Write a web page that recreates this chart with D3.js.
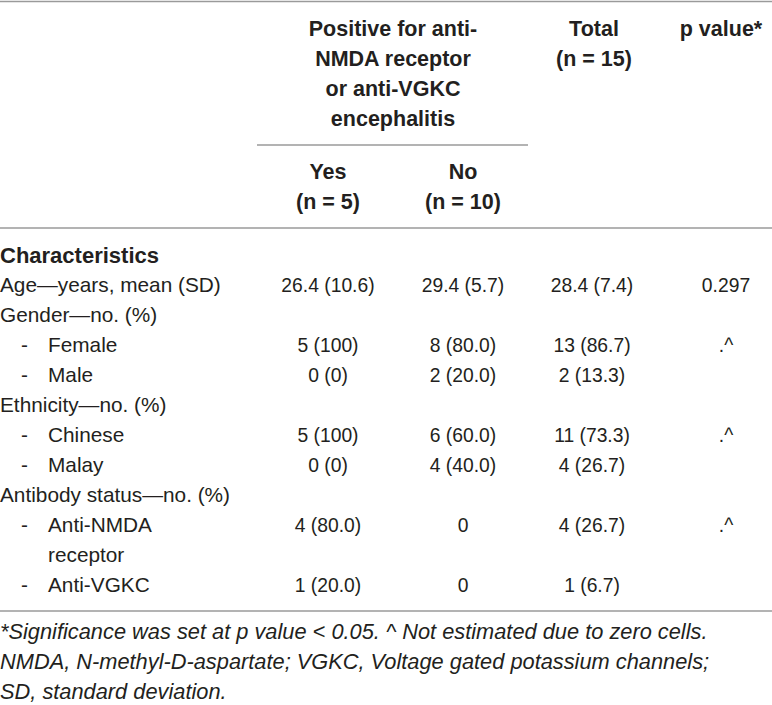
<!DOCTYPE html>
<html>
<head>
<meta charset="utf-8">
<script src="https://cdn.jsdelivr.net/npm/d3@7"></script>
<style>
  html, body { margin: 0; padding: 0; background: #fff; }
  svg text { font-family: "Liberation Sans", Arial, sans-serif; fill: #231f20; }
</style>
</head>
<body>
<script>
// column headers
var groupHeader = ["Positive for anti-", "NMDA receptor", "or anti-VGKC", "encephalitis"];
var yesHeader = ["Yes", "(n = 5)"];
var noHeader = ["No", "(n = 10)"];
var totalHeader = ["Total", "(n = 15)"];
var pHeader = ["p value*"];

// row labels (indent 1 = sub item with dash, 2 = wrapped line)
var rowLabels = ["Age\u2014years, mean (SD)", "Gender\u2014no. (%)", "Female", "Male",
  "Ethnicity\u2014no. (%)", "Chinese", "Malay", "Antibody status\u2014no. (%)",
  "Anti-NMDA", "receptor", "Anti-VGKC"];
var rowIndent = [0, 0, 1, 1, 0, 1, 1, 0, 1, 2, 1];

var yesValues   = ["26.4 (10.6)", "", "5 (100)", "0 (0)", "", "5 (100)", "0 (0)", "", "4 (80.0)", "", "1 (20.0)"];
var noValues    = ["29.4 (5.7)", "", "8 (80.0)", "2 (20.0)", "", "6 (60.0)", "4 (40.0)", "", "0", "", "0"];
var totalValues = ["28.4 (7.4)", "", "13 (86.7)", "2 (13.3)", "", "11 (73.3)", "4 (26.7)", "", "4 (26.7)", "", "1 (6.7)"];
var pValues     = ["0.297", "", ".^", "", "", ".^", "", "", ".^", "", ""];

var footnotes = [
  "*Significance was set at p value < 0.05. ^ Not estimated due to zero cells.",
  "NMDA, N-methyl-D-aspartate; VGKC, Voltage gated potassium channels;",
  "SD, standard deviation."
];

var w = 772, h = 705;
var fsHead = 21.5, fsLabel = 20.8, fsValue = 19.3, fsFoot = 21.8;

var svg = d3.select("body").append("svg")
  .attr("width", w).attr("height", h);

var cols = ["yes", "no", "total", "p"];
var xHead = d3.scaleOrdinal().domain(cols).range([328, 463, 594, 721]);
var xCol = d3.scaleOrdinal().domain(cols).range([328, 463, 592, 726]);
var yLine = d3.scaleLinear().domain([0, 1]).range([36, 66]);   // header text lines
var yRow = d3.scaleLinear().domain([0, 1]).range([292, 322]);  // body rows
var yFoot = d3.scaleLinear().domain([0, 1]).range([639, 669]);

// rules
var ruleColor = "#9a9a9a";
function rule(x1, x2, y) {
  svg.append("line").attr("x1", x1).attr("x2", x2).attr("y1", y).attr("y2", y)
    .attr("stroke", ruleColor).attr("stroke-width", 1.6);
}
rule(0, w, 1.5);
rule(257, 528, 145);
rule(0, w, 228);
rule(0, w, 611);

// headers
function headerBlock(lines, cx, start) {
  svg.selectAll(null).data(lines).enter().append("text")
    .attr("x", cx)
    .attr("y", function(d, i) { return yLine(i + start); })
    .attr("text-anchor", "middle")
    .attr("font-size", fsHead)
    .attr("font-weight", "bold")
    .text(function(d) { return d; });
}
headerBlock(groupHeader, 393, 0);
headerBlock(yesHeader, xHead("yes"), 4.78);
headerBlock(noHeader, xHead("no"), 4.78);
headerBlock(totalHeader, xHead("total"), 0);
headerBlock(pHeader, xHead("p"), 0);

svg.append("text")
  .attr("x", 0).attr("y", yRow(-1) + 1)
  .attr("font-size", 22)
  .attr("font-weight", "bold")
  .text("Characteristics");

// row labels
svg.selectAll(".dash").data(rowLabels).enter()
  .filter(function(d, i) { return rowIndent[i] === 1; })
  .append("text")
  .attr("x", 21)
  .attr("y", function(d) { return yRow(rowLabels.indexOf(d)); })
  .attr("font-size", fsLabel)
  .text("-");

svg.selectAll(".label").data(rowLabels).enter().append("text")
  .attr("x", function(d, i) { return rowIndent[i] ? 48 : 0; })
  .attr("y", function(d, i) { return yRow(i); })
  .attr("font-size", fsLabel)
  .text(function(d) { return d; });

// values
var valueCols = { yes: yesValues, no: noValues, total: totalValues, p: pValues };
cols.forEach(function(c) {
  svg.selectAll(null).data(valueCols[c]).enter().append("text")
    .attr("x", xCol(c))
    .attr("y", function(d, i) { return yRow(i); })
    .attr("text-anchor", "middle")
    .attr("font-size", fsValue)
    .text(function(d) { return d; });
});

// footnotes
svg.selectAll(null).data(footnotes).enter().append("text")
  .attr("x", 0)
  .attr("y", function(d, i) { return yFoot(i); })
  .attr("font-size", fsFoot)
  .attr("font-style", "italic")
  .text(function(d) { return d; });
</script>
</body>
</html>
